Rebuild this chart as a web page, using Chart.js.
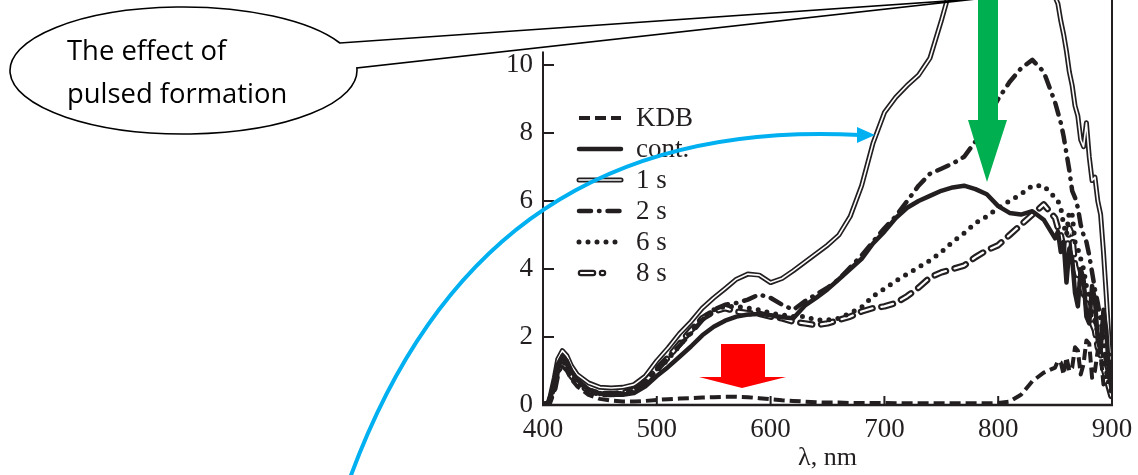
<!DOCTYPE html>
<html>
<head>
<meta charset="utf-8">
<script src="https://cdn.jsdelivr.net/npm/chart.js@4.4.1/dist/chart.umd.min.js"></script>
<style>
  html, body { margin: 0; padding: 0; background: #fff; }
  #wrap { position: relative; width: 1138px; height: 475px; }
</style>
</head>
<body>
<div id="wrap"><canvas id="chart" width="1138" height="475"></canvas></div>
<script>
// wavelength grid, nm
const lambda = [400,405,410,413,417,421,425,430,440,450,460,470,480,490,500,510,520,530,540,550,
  560,570,580,590,600,610,620,630,640,650,660,670,680,690,700,710,720,730,740,750,
  760,770,780,790,800,810,820,830,840,
  850,852.5,855,857.5,860,862.5,865,867.5,870,872.5,875,877.5,880,882.5,885,887.5,890,892.5,895,897.5,900];

const kdb = [0,0.05,0.5,0.95,1.15,1.0,0.75,0.55,0.3,0.18,0.13,0.1,0.1,0.12,0.15,0.17,0.19,0.2,0.22,0.23,
  0.24,0.24,0.23,0.2,0.17,0.14,0.12,0.1,0.08,0.07,0.07,0.06,0.06,0.06,0.06,0.05,0.05,0.05,0.05,0.05,
  0.05,0.05,0.05,0.05,0.06,0.1,0.3,0.7,0.95,
  1.1,1.3,1.25,0.9,1.4,1.0,1.1,1.7,1.6,0.9,1.2,1.9,1.8,0.8,1.0,1.6,1.5,0.6,0.8,1.2,0.3];

const cont = [0,0.05,0.7,1.2,1.45,1.3,1.0,0.75,0.45,0.33,0.3,0.3,0.35,0.55,0.85,1.12,1.42,1.72,2.05,2.3,
  2.48,2.6,2.66,2.68,2.64,2.58,2.55,2.92,3.15,3.4,3.7,4.0,4.3,4.75,5.1,5.5,5.8,6.0,6.15,6.3,
  6.4,6.45,6.35,6.2,5.85,5.65,5.6,5.7,5.45,
  4.9,5.1,4.5,4.8,3.6,4.6,4.3,3.3,2.9,4.0,3.7,2.6,2.4,3.5,3.1,1.9,1.6,2.8,2.2,0.9,0.4];

const s1 = [0,0.05,0.8,1.35,1.6,1.45,1.15,0.9,0.65,0.52,0.5,0.52,0.6,0.85,1.3,1.68,2.1,2.45,2.85,3.15,
  3.42,3.7,3.85,3.82,3.6,3.72,3.95,4.2,4.45,4.7,5.0,5.55,6.45,7.7,8.6,9.05,9.4,9.7,10.2,11.3,
  12.5,13.2,13.6,13.8,13.8,13.6,13.3,12.9,12.4,
  12.0,11.8,11.3,10.9,10.4,9.8,9.4,8.8,8.5,7.8,7.6,8.3,7.3,6.6,6.7,6.0,5.6,4.5,3.2,1.8,0.8];

const s2 = [0,0.05,0.6,1.1,1.35,1.2,0.95,0.7,0.45,0.35,0.32,0.35,0.45,0.7,1.05,1.4,1.75,2.1,2.5,2.8,
  2.95,3.0,3.1,3.25,3.15,2.95,2.8,3.05,3.25,3.45,3.7,4.05,4.4,4.8,5.2,5.55,6.0,6.45,6.8,6.95,
  7.1,7.3,7.75,8.4,9.0,9.5,9.9,10.15,9.8,
  8.9,8.6,8.3,7.9,7.4,6.9,6.3,6.1,5.8,5.3,5.0,4.8,4.4,3.9,3.4,3.0,2.5,1.9,1.2,1.5,0.4];

const s6 = [0,0.05,0.55,1.05,1.3,1.15,0.9,0.68,0.42,0.33,0.3,0.32,0.42,0.65,1.0,1.35,1.75,2.15,2.55,2.8,
  2.9,2.9,2.85,2.8,2.7,2.65,2.6,2.6,2.5,2.5,2.55,2.7,2.88,3.2,3.42,3.65,3.85,4.05,4.25,4.5,
  4.8,5.05,5.35,5.55,5.8,6.0,6.2,6.45,6.45,
  6.1,6.0,5.8,5.3,5.0,5.7,5.6,4.8,4.6,4.3,4.0,3.5,3.2,2.7,2.5,2.1,1.8,1.4,1.0,0.6,0.3];

const s8 = [0,0.05,0.5,1.0,1.25,1.1,0.85,0.65,0.42,0.33,0.32,0.35,0.45,0.7,1.05,1.4,1.8,2.2,2.55,2.75,
  2.85,2.75,2.7,2.68,2.6,2.55,2.45,2.4,2.35,2.4,2.5,2.6,2.75,2.85,2.9,3.0,3.2,3.45,3.75,3.9,
  4.0,4.1,4.35,4.55,4.7,5.0,5.3,5.6,5.9,
  5.5,5.2,5.0,4.6,4.4,5.2,5.0,4.1,3.8,3.6,3.3,3.0,2.8,2.4,2.2,1.7,1.5,1.1,0.8,0.5,0.2];

const seriesLabels = ['KDB', 'cont.', '1 s', '2 s', '6 s', '8 s'];
const xTicks = [400, 500, 600, 700, 800, 900];
const yTicks = [0, 2, 4, 6, 8, 10];

const ink = '#231f20';
const serif = "'Liberation Serif', 'Times New Roman', serif";

function pts(vals) {
  return lambda.map((x, i) => ({ x: x, y: vals[i] }));
}

// line looks, shared by the plot and the legend
const looks = {
  'KDB':   [{ color: ink, width: 4, dash: [11, 5], cap: 'butt' }],
  'cont.': [{ color: ink, width: 4.5, dash: [], cap: 'round' }],
  '1 s':   [{ color: ink, width: 5, dash: [], cap: 'round' }, { color: '#fff', width: 1.6, dash: [], cap: 'round' }],
  '2 s':   [{ color: ink, width: 4.5, dash: [12, 8, 0.5, 8], cap: 'round' }],
  '6 s':   [{ color: ink, width: 5, dash: [0, 9], cap: 'round' }],
  '8 s':   [{ color: ink, width: 6.5, dash: [12, 9], cap: 'round' }, { color: '#fff', width: 2.2, dash: [12, 9], cap: 'round' }]
};
const seriesValues = { 'KDB': kdb, 'cont.': cont, '1 s': s1, '2 s': s2, '6 s': s6, '8 s': s8 };
const drawOrder = { '1 s': 60, '8 s': 50, '6 s': 40, '2 s': 30, 'cont.': 20, 'KDB': 10 };

const datasets = [];
seriesLabels.forEach(lbl => {
  looks[lbl].forEach((lk, k) => {
    datasets.push({
      label: lbl,
      data: pts(seriesValues[lbl]),
      borderColor: lk.color,
      borderWidth: lk.width,
      borderDash: lk.dash,
      borderCapStyle: lk.cap,
      borderJoinStyle: 'round',
      pointRadius: 0,
      tension: 0,
      fill: false,
      order: drawOrder[lbl] - k
    });
  });
});

function sample(ctx, lbl, x1, x2, y) {
  looks[lbl].forEach(lk => {
    ctx.beginPath();
    ctx.strokeStyle = lk.color;
    ctx.lineWidth = lk.width;
    ctx.setLineDash(lk.dash);
    ctx.lineCap = lk.cap;
    ctx.moveTo(x1, y);
    ctx.lineTo(x2, y);
    ctx.stroke();
  });
  ctx.setLineDash([]);
}

const decor = {
  id: 'decor',
  afterDatasetsDraw(chart) {
    const ctx = chart.ctx, a = chart.chartArea;
    const xs = chart.scales.x, ys = chart.scales.y;
    ctx.save();
    ctx.strokeStyle = ink;
    ctx.lineCap = 'butt';
    // axes frame (open at the top-left)
    ctx.lineWidth = 2;
    ctx.beginPath();
    ctx.moveTo(a.left, a.bottom);
    ctx.lineTo(a.left, ys.getPixelForValue(10.4));
    ctx.stroke();
    ctx.beginPath();
    ctx.moveTo(a.right, a.top);
    ctx.lineTo(a.right, a.bottom);
    ctx.stroke();
    ctx.lineWidth = 2.5;
    ctx.beginPath();
    ctx.moveTo(a.left - 1, a.bottom);
    ctx.lineTo(a.right + 1, a.bottom);
    ctx.stroke();
    // inward ticks
    ctx.lineWidth = 2;
    yTicks.forEach(v => {
      if (v === 0) return;
      const py = ys.getPixelForValue(v);
      ctx.beginPath(); ctx.moveTo(a.left, py); ctx.lineTo(a.left + 11, py); ctx.stroke();
    });
    xTicks.forEach(v => {
      if (v === 400 || v === 900) return;
      const px = xs.getPixelForValue(v);
      ctx.beginPath(); ctx.moveTo(px, a.bottom); ctx.lineTo(px, a.bottom - 9); ctx.stroke();
    });
    // legend
    ctx.font = '27px ' + serif;
    ctx.textBaseline = 'middle';
    ctx.textAlign = 'left';
    seriesLabels.forEach((lbl, i) => {
      const y = 118 + i * 31;
      const x2 = lbl === '8 s' ? 603 : 621;
      const x1 = lbl === '8 s' ? 581 : 579;
      sample(ctx, lbl, x1, x2, y);
      ctx.fillStyle = ink;
      ctx.fillText(lbl, 636, y + 1);
    });
    ctx.restore();
  },
  afterDraw(chart) {
    const ctx = chart.ctx;
    ctx.save();
    // callout bubble with tail
    const cx = 183.5, cy = 70.5, rx = 173.5, ry = 63.5;
    ctx.beginPath();
    ctx.moveTo(976, -1);
    ctx.ellipse(cx, cy, rx, ry, 0, -0.04, Math.PI * 2 - 0.448, false);
    ctx.lineTo(976, -1);
    ctx.closePath();
    ctx.fillStyle = '#fff';
    ctx.fill();
    ctx.strokeStyle = '#000';
    ctx.lineWidth = 1.6;
    ctx.lineJoin = 'miter';
    ctx.stroke();
    // bubble text, sized to the reference width
    let fs = 24;
    ctx.font = fs + "px 'Open Sans', 'Noto Sans', sans-serif";
    fs = fs * 220 / ctx.measureText('pulsed formation').width;
    ctx.font = fs.toFixed(1) + "px 'Open Sans', 'Noto Sans', sans-serif";
    ctx.fillStyle = '#000';
    ctx.textBaseline = 'alphabetic';
    ctx.textAlign = 'left';
    ctx.fillText('The effect of', 67, 60);
    ctx.fillText('pulsed formation', 67, 103);
    // green arrow
    ctx.fillStyle = '#00B050';
    ctx.beginPath();
    ctx.moveTo(978, -2); ctx.lineTo(998, -2); ctx.lineTo(998, 120); ctx.lineTo(1007, 120);
    ctx.lineTo(987, 182); ctx.lineTo(968, 120); ctx.lineTo(978, 120); ctx.closePath();
    ctx.fill();
    // red arrow
    ctx.fillStyle = '#FF0000';
    ctx.beginPath();
    ctx.moveTo(721, 344); ctx.lineTo(765, 344); ctx.lineTo(765, 377); ctx.lineTo(786, 377);
    ctx.lineTo(742, 388); ctx.lineTo(699, 377); ctx.lineTo(721, 377); ctx.closePath();
    ctx.fill();
    // blue curved arrow
    ctx.strokeStyle = '#00B0F0';
    ctx.lineWidth = 4;
    ctx.lineCap = 'butt';
    ctx.beginPath();
    ctx.moveTo(350, 478);
    ctx.bezierCurveTo(430, 260, 580, 120, 860, 135);
    ctx.stroke();
    ctx.fillStyle = '#00B0F0';
    ctx.beginPath();
    ctx.moveTo(857, 127); ctx.lineTo(875, 135); ctx.lineTo(857, 143); ctx.closePath();
    ctx.fill();
    ctx.restore();
  }
};

new Chart(document.getElementById('chart'), {
  type: 'line',
  data: { datasets: datasets },
  options: {
    responsive: false,
    animation: false,
    devicePixelRatio: 1,
    layout: { padding: { left: 0, right: 26, top: 0, bottom: 0 } },
    plugins: { legend: { display: false }, tooltip: { enabled: false } },
    scales: {
      x: {
        type: 'linear',
        min: 400,
        max: 900,
        afterBuildTicks: s => { s.ticks = xTicks.map(v => ({ value: v })); },
        afterFit: s => { s.height = 70; s.paddingLeft = 0; s.paddingRight = 0; },
        grid: { display: false, drawTicks: false },
        border: { display: false },
        ticks: { color: ink, font: { family: serif, size: 27 }, padding: 9, maxRotation: 0 },
        title: { display: true, text: 'λ, nm', color: ink, font: { family: serif, size: 26 }, padding: { top: 0, bottom: 1 } }
      },
      y: {
        type: 'linear',
        min: 0,
        max: 405 / 34,
        afterBuildTicks: s => { s.ticks = yTicks.map(v => ({ value: v })); },
        afterFit: s => { s.width = 543; s.paddingTop = 0; s.paddingBottom = 0; },
        grid: { display: false, drawTicks: false },
        border: { display: false },
        ticks: { color: ink, font: { family: serif, size: 27 }, padding: 10 }
      }
    }
  },
  plugins: [decor]
});
</script>
</body>
</html>
